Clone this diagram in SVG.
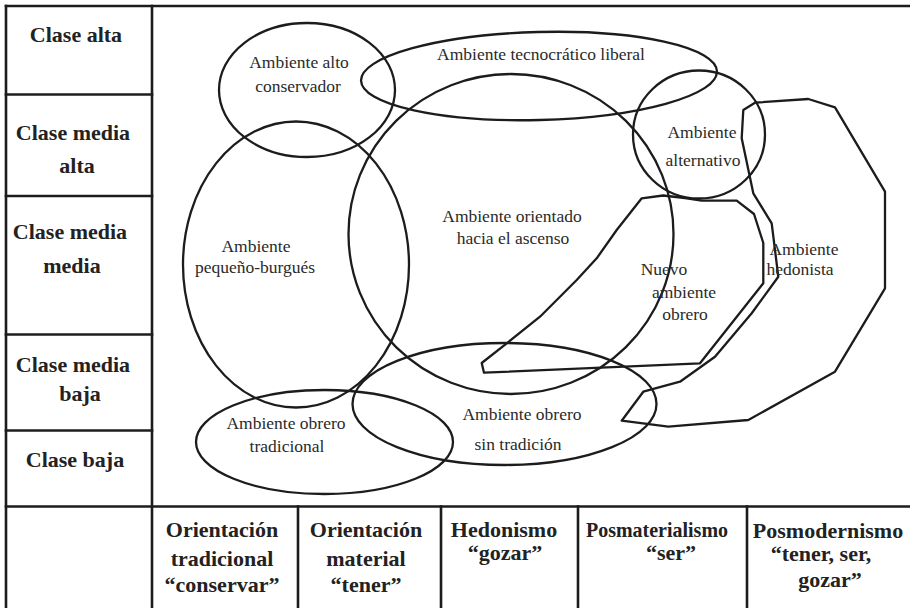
<svg xmlns="http://www.w3.org/2000/svg" width="910" height="608" viewBox="0 0 910 608">
<style>
.bg{fill:#ffffff}
.grid line{stroke:#1c1c1c;stroke-width:2.6;stroke-linecap:square}
.shape{fill:none;stroke:#1c1c1c;stroke-width:2.3;stroke-linejoin:round}
text{font-family:Liberation Serif, DejaVu Serif, Noto Serif, serif}
.lbl{font-size:17.5px;fill:#2a2a2a;text-anchor:middle}
.hdr{font-size:22px;font-weight:bold;fill:#222222;text-anchor:middle}
</style>
<rect class="bg" x="0" y="0" width="910" height="608"/>
<g id="grid" class="grid">
  <line x1="6" y1="6" x2="910" y2="6"/>
  <line x1="6" y1="6" x2="6" y2="608"/>
  <line x1="152" y1="6" x2="152" y2="608"/>
  <line x1="6" y1="94.5" x2="152" y2="94.5"/>
  <line x1="6" y1="196" x2="152" y2="196"/>
  <line x1="6" y1="334.5" x2="152" y2="334.5"/>
  <line x1="6" y1="430.5" x2="152" y2="430.5"/>
  <line x1="6" y1="506.5" x2="910" y2="506.5"/>
  <line x1="298" y1="506.5" x2="298" y2="608"/>
  <line x1="441" y1="506.5" x2="441" y2="608"/>
  <line x1="578" y1="506.5" x2="578" y2="608"/>
  <line x1="747" y1="506.5" x2="747" y2="608"/>
</g>
<g id="row-labels">
  <text class="hdr" x="76" y="42">Clase alta</text>
  <text class="hdr" x="73" y="140">Clase media</text>
  <text class="hdr" x="77" y="173">alta</text>
  <text class="hdr" x="70" y="239">Clase media</text>
  <text class="hdr" x="72" y="273">media</text>
  <text class="hdr" x="73" y="372">Clase media</text>
  <text class="hdr" x="80" y="401">baja</text>
  <text class="hdr" x="75" y="467">Clase baja</text>
</g>
<g id="column-labels">
  <text class="hdr" x="222" y="537">Orientación</text>
  <text class="hdr" x="222" y="566">tradicional</text>
  <text class="hdr" x="222" y="592">“conservar”</text>
  <text class="hdr" x="366" y="537">Orientación</text>
  <text class="hdr" x="366" y="566">material</text>
  <text class="hdr" x="366" y="592">“tener”</text>
  <text class="hdr" x="504" y="537">Hedonismo</text>
  <text class="hdr" x="505" y="560">“gozar”</text>
  <text class="hdr" x="657" y="537" textLength="142" lengthAdjust="spacingAndGlyphs">Posmaterialismo</text>
  <text class="hdr" x="671" y="560">“ser”</text>
  <text class="hdr" x="828" y="538">Posmodernismo</text>
  <text class="hdr" x="821" y="561">“tener, ser,</text>
  <text class="hdr" x="830" y="587">gozar”</text>
</g>
<g id="connectors"></g>
<g id="node-alto-conservador">
  <ellipse class="shape" cx="307" cy="90" rx="88" ry="67"/>
  <text class="lbl" x="299" y="68">Ambiente alto</text>
  <text class="lbl" x="298" y="92">conservador</text>
</g>
<g id="node-tecnocratico-liberal">
  <ellipse class="shape" cx="539" cy="76" rx="178" ry="44" transform="rotate(-1.5 539 76)"/>
  <text class="lbl" x="541" y="60">Ambiente tecnocrático liberal</text>
</g>
<g id="node-alternativo">
  <ellipse class="shape" cx="699" cy="134.5" rx="66" ry="64"/>
  <text class="lbl" x="702" y="138">Ambiente</text>
  <text class="lbl" x="703" y="166">alternativo</text>
</g>
<g id="node-ascenso">
  <ellipse class="shape" cx="511" cy="234" rx="162.5" ry="160"/>
  <text class="lbl" x="512" y="222">Ambiente orientado</text>
  <text class="lbl" x="513" y="244">hacia el ascenso</text>
</g>
<g id="node-pequeno-burgues">
  <ellipse class="shape" cx="296" cy="264.5" rx="113" ry="143"/>
  <text class="lbl" x="256" y="252">Ambiente</text>
  <text class="lbl" x="255" y="273">pequeño-burgués</text>
</g>
<g id="node-nuevo-obrero">
  <polygon class="shape" points="641.7,198.3 663,195.5 685,198 701.7,200.7 736.7,200.7 754,214 763.3,243 763.3,283.3 700,363.3 484,372.7 481.7,363 506.7,343.3 540,316.7 576.7,280 596.7,258.3 616.7,230"/>
  <text class="lbl" x="664" y="275">Nuevo</text>
  <text class="lbl" x="684" y="298">ambiente</text>
  <text class="lbl" x="685" y="320">obrero</text>
</g>
<g id="node-hedonista">
  <polygon class="shape" points="743.3,110 741.7,138.3 753.3,193.3 771.7,223.3 778.3,276.7 751.7,313.3 715,356.7 680,381.7 643.3,391.7 621.7,420.7 668.3,426.7 748.3,420 835,371.7 885,288.3 885,191.7 835,107.3 808.3,99 755,102.7"/>
  <text class="lbl" x="804" y="255">Ambiente</text>
  <text class="lbl" x="800" y="275">hedonista</text>
</g>
<g id="node-obrero-tradicional">
  <ellipse class="shape" cx="324.5" cy="442" rx="128.5" ry="52"/>
  <text class="lbl" x="286" y="429">Ambiente obrero</text>
  <text class="lbl" x="287" y="452">tradicional</text>
</g>
<g id="node-obrero-sin-tradicion">
  <ellipse class="shape" cx="504.5" cy="404" rx="152" ry="61"/>
  <text class="lbl" x="522" y="420">Ambiente obrero</text>
  <text class="lbl" x="518" y="450">sin tradición</text>
</g>
</svg>
